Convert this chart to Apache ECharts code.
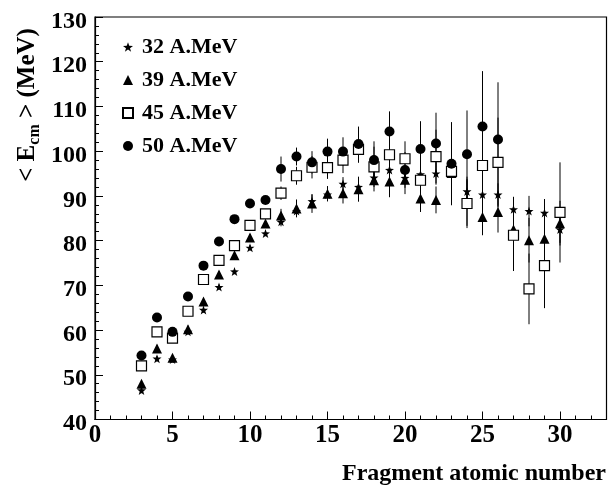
<!DOCTYPE html>
<html>
<head>
<meta charset="utf-8">
<script src="https://cdn.jsdelivr.net/npm/echarts@6/dist/echarts.min.js"></script>
<style>html,body{margin:0;padding:0;background:#fff}#c{width:610px;height:487px}</style>
</head>
<body>
<div id="c"></div>
<script>
// Fragment atomic number Z
const zAll = [3,4,5,6,7,8,9,10,11,12,13,14,15,16,17,18,19,20,21,22,23,24,25,26,27,28,29,30];
const z50 = zAll.slice(0, 24); // 3..26

const e32 = [46.5,53.6,53.4,59.6,64.5,69.6,73.1,78.4,81.6,84.2,86.6,88.8,90.3,92.7,92.0,94.1,95.8,94.0,94.8,95.0,95.6,91.0,90.3,90.3,87.0,86.6,86.2,82.5];
const err32 = [0.6,0.6,0.6,0.6,0.6,0.6,0.6,0.6,0.6,1.0,1.2,1.5,1.5,1.5,1.5,1.5,1.5,1.5,2.5,2.5,2.5,2.5,2.5,2.5,2.8,3.4,3.1,3.0];

const e39 = [48.0,55.9,53.8,60.2,66.4,72.4,76.7,80.7,83.8,85.6,87.2,88.3,90.5,90.6,91.5,93.5,93.2,93.6,89.4,89.1,95.1,88.8,85.3,86.4,82.5,80.1,80.4,83.9];
const err39 = [0.8,0.8,0.8,0.8,0.8,0.8,0.8,0.8,0.8,1.5,2.0,2.1,1.7,2.3,2.8,2.5,3.5,3.2,3.0,3.0,5.0,5.5,4.1,4.6,4.5,5.0,4.5,5.0];

const e45 = [52.0,59.6,58.2,64.2,71.3,75.6,78.9,83.4,86.0,90.6,94.5,96.4,96.3,98.0,100.4,96.5,99.2,98.3,93.5,98.8,95.5,88.3,96.8,97.5,81.2,69.2,74.4,86.3];
const err45 = [0.8,0.8,0.8,0.8,0.8,0.8,0.8,0.8,0.8,1.5,2.0,2.5,2.5,2.9,3.0,4.5,5.0,3.9,5.5,6.0,6.5,5.5,10.0,10.0,8.0,7.9,9.5,11.2];

const e50 = [54.3,62.8,59.6,67.5,74.4,79.8,84.8,88.3,89.1,96.0,98.8,97.5,99.9,99.9,101.6,98.0,104.4,95.8,100.5,101.7,97.2,99.3,105.5,102.6];
const err50 = [0.5,0.5,0.5,0.5,0.5,0.5,0.5,0.5,0.5,2.8,2.0,2.5,2.9,3.2,3.9,4.2,4.5,4.0,6.2,6.9,9.3,9.8,12.4,12.8];

const names = ['32 A.MeV','39 A.MeV','45 A.MeV','50 A.MeV'];
const xTicks = [0,5,10,15,20,25,30];
const yTicks = [40,50,60,70,80,90,100,110,120,130];

const FONT = '"Liberation Serif", "Times New Roman", serif';
const STAR = 'path://M0,-10 L2.35,-3.24 L9.51,-3.09 L3.8,1.24 L5.88,8.09 L0,4 L-5.88,8.09 L-3.8,1.24 L-9.51,-3.09 L-2.35,-3.24 Z';

function pts(z, v) { return z.map((x, i) => [x, v[i]]); }
function errPts(z, v, e) { return z.map((x, i) => [x, v[i], e[i]]); }

function errSeries(data) {
  return {
    type: 'custom',
    silent: true,
    z: 1,
    data: data,
    encode: {x: 0, y: 1},
    renderItem: function (params, api) {
      const x = api.value(0), y = api.value(1), e = api.value(2);
      const p1 = api.coord([x, y - e]);
      const p2 = api.coord([x, y + e]);
      return {type: 'line', shape: {x1: p1[0], y1: p1[1], x2: p2[0], y2: p2[1]},
              style: {stroke: '#000', lineWidth: 1}};
    }
  };
}

const labelRich = {v: {fontFamily: FONT, fontWeight: 'bold', fontSize: 24, color: '#000', padding: [9, 0, 0, 0]}};

const chart = echarts.init(document.getElementById('c'), null, {renderer: 'canvas'});
chart.setOption({
  animation: false,
  backgroundColor: '#fff',
  grid: {left: 95, right: 3.5, top: 17, bottom: 67.5, show: true, borderColor: '#000', borderWidth: 1.2, backgroundColor: 'transparent'},
  xAxis: {
    type: 'value', min: 0, max: 33, interval: 5,
    axisLine: {show: true, lineStyle: {color: '#000', width: 1.2}},
    axisTick: {show: true, inside: true, length: 8, lineStyle: {color: '#000'}},
    minorTick: {show: true, splitNumber: 5, length: 4, lineStyle: {color: '#000'}},
    splitLine: {show: false},
    axisLabel: {
      color: '#000', fontFamily: FONT, fontWeight: 'bold', fontSize: 25, margin: 4,
      showMaxLabel: false,
      formatter: function (v) { return xTicks.indexOf(v) >= 0 ? String(v) : ''; }
    }
  },
  yAxis: {
    type: 'value', min: 40, max: 130, interval: 10,
    axisLine: {show: true, lineStyle: {color: '#000', width: 1.2}},
    axisTick: {show: true, inside: true, length: 8, lineStyle: {color: '#000'}},
    minorTick: {show: true, splitNumber: 5, length: 4, lineStyle: {color: '#000'}},
    splitLine: {show: false},
    axisLabel: {
      color: '#000', fontFamily: FONT, fontWeight: 'bold', fontSize: 25, margin: 8,
      rich: labelRich,
      formatter: function (v) { return yTicks.indexOf(v) >= 0 ? '{v|' + v + '}' : ''; }
    }
  },
  legend: {
    data: names,
    orient: 'vertical',
    left: 117, top: 31,
    itemWidth: 10, itemHeight: 10, itemGap: 11,
    textStyle: {color: '#000', fontFamily: FONT, fontWeight: 'bold', fontSize: 22, lineHeight: 22, padding: [0, 0, 0, 4]},
    selectedMode: false
  },
  graphic: [
    {
      type: 'text', x: 13, y: 105, rotation: Math.PI / 2,
      style: {
        text: '{a|< E}{s|cm}{a| > (MeV)}',
        align: 'center', verticalAlign: 'top',
        rich: {
          a: {fontFamily: FONT, fontWeight: 'bold', fontSize: 25, fill: '#000'},
          s: {fontFamily: FONT, fontWeight: 'bold', fontSize: 16, fill: '#000', padding: [14, 0, 0, 0]}
        }
      }
    },
    {
      type: 'text', x: 606, y: 462,
      style: {text: 'Fragment atomic number', align: 'right', verticalAlign: 'top',
              fontFamily: FONT, fontWeight: 'bold', fontSize: 24, fill: '#000'}
    }
  ],
  series: [
    errSeries(errPts(zAll, e32, err32)),
    errSeries(errPts(zAll, e39, err39)),
    errSeries(errPts(zAll, e45, err45)),
    errSeries(errPts(z50, e50, err50)),
    {name: names[0], type: 'scatter', z: 5, symbol: STAR, symbolSize: 9, data: pts(zAll, e32),
     itemStyle: {color: '#000', opacity: 1}},
    {name: names[1], type: 'scatter', z: 5, symbol: 'triangle', symbolSize: 10, data: pts(zAll, e39),
     itemStyle: {color: '#000', opacity: 1}},
    {name: names[2], type: 'scatter', z: 5, symbol: 'rect', symbolSize: 10, data: pts(zAll, e45),
     itemStyle: {color: '#fff', borderColor: '#000', borderWidth: 1.2, opacity: 1}},
    {name: names[3], type: 'scatter', z: 6, symbol: 'circle', symbolSize: 10, data: pts(z50, e50),
     itemStyle: {color: '#000', opacity: 1}}
  ]
});
</script>
</body>
</html>
